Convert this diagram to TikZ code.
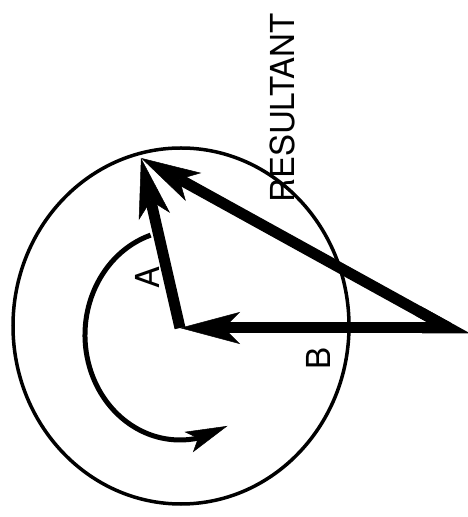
\documentclass[tikz,border=0pt]{standalone}
\usepackage{fontspec}
\setmainfont{TeX Gyre Heros}
\usetikzlibrary{arrows.meta,bending,calc}
\tikzset{
  vec/.style={line width=11pt,-{Stealth[length=60pt,width=32pt,inset=16pt,line width=0.5pt]}},
  turn/.style={line width=5pt,-{Stealth[length=42pt,width=22pt,inset=10pt,line width=0.5pt]}},
  lbl/.style={rotate=90,font=\fontsize{33}{33}\selectfont,inner sep=0pt}
}
\begin{document}
\begin{tikzpicture}[x=1pt,y=1pt]
\useasboundingbox (0,0) rectangle (467,517);
\coordinate (O) at (180,189);
\coordinate (P) at (449,189);
\coordinate (T) at (141,359);
\coordinate (C) at (180,182);
\draw[line width=3.5pt] (181,191) ellipse [x radius=168pt, y radius=178pt];
\draw[turn] (C) ++(108:95pt and 105pt) arc[start angle=108, end angle=300, x radius=95pt, y radius=105pt];
\draw[vec] (P) -- (O);
\draw[vec] (O) -- (T);
\draw[vec] (P) -- (T);
\draw[line width=11pt,line join=miter] ($(P)!0.1!(O)$) -- (P) -- ($(P)!0.1!(T)$);
\node[lbl] (res) at (282,409) {RESULTANT};
\node[lbl] (a) at (147,240) {A};
\node[lbl] (b) at (318,159) {B};
\end{tikzpicture}
\end{document}
